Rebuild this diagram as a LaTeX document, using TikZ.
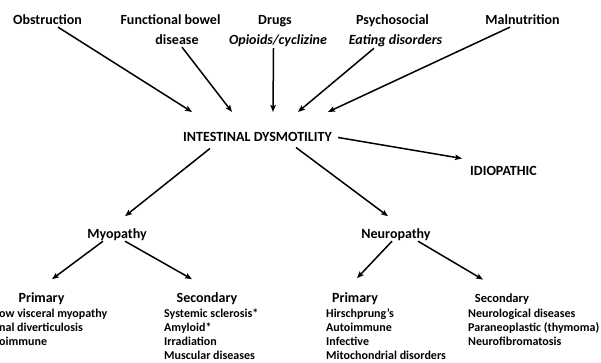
\documentclass[tikz,border=0pt]{standalone}
\usepackage{fontspec}
\setmainfont{Carlito}
\usetikzlibrary{arrows.meta,calc}
\tikzset{
  big/.style={inner sep=0pt,anchor=base,font=\fontsize{14}{16}\selectfont\bfseries},
  bigit/.style={inner sep=0pt,anchor=base,font=\fontsize{14}{16}\selectfont\bfseries\itshape},
  head/.style={inner sep=0pt,anchor=base,font=\fontsize{14}{16}\selectfont\bfseries},
  shead/.style={inner sep=0pt,anchor=base,font=\fontsize{12.5}{14}\selectfont\bfseries},
  item/.style={inner sep=0pt,anchor=base west,font=\fontsize{12}{14}\selectfont\bfseries},
  arr/.style={line width=1.5pt,-{Stealth[length=7pt,width=5.5pt,inset=1.5pt]}}
}
\begin{document}
\begin{tikzpicture}[x=1pt,y=-1pt]
\useasboundingbox (0,0) rectangle (601,362);
% top row
\node[big] (obs) at (47.5,24.5) {Obstruction};
\node[big] (fbd) at (170.5,24.5) {Functional bowel};
\node[big] (fbd2) at (177,44.5) {disease};
\node[big] (drg) at (275,24.5) {Drugs};
\node[bigit] (drg2) at (278,44.5) {Opioids/cyclizine};
\node[big] (psy) at (392.5,24.5) {Psychosocial};
\node[bigit] (psy2) at (395.5,44.5) {Eating disorders};
\node[big] (mal) at (522.5,24.5) {Malnutrition};
% centre
\node[big] (idm) at (257.5,141.5) {INTESTINAL DYSMOTILITY};
\node[big] (idio) at (503.5,175.5) {IDIOPATHIC};
\node[big] (myo) at (117,238.5) {Myopathy};
\node[big] (neu) at (396,238.5) {Neuropathy};
% headings
\node[head] (mp) at (41.5,302) {Primary};
\node[head] (ms) at (207,302) {Secondary};
\node[head] (np) at (355,302) {Primary};
\node[shead] (ns) at (502,302) {Secondary};
% items
\node[item] (mp1) at (-1,317) {ow visceral myopathy};
\node[item] (mp2) at (-1,331.3) {nal diverticulosis};
\node[item] (mp3) at (-1,345.6) {oimmune};
\node[item] (ms1) at (164,317) {Systemic sclerosis*};
\node[item] (ms2) at (164,331.3) {Amyloid*};
\node[item] (ms3) at (164,345.6) {Irradiation};
\node[item] (ms4) at (164,359.5) {Muscular diseases};
\node[item] (np1) at (326,317) {Hirschprung’s};
\node[item] (np2) at (326,331.3) {Autoimmune};
\node[item] (np3) at (326,345.6) {Infective};
\node[item] (np4) at (326,359.5) {Mitochondrial disorders};
\node[item] (ns1) at (468,317) {Neurological diseases};
\node[item] (ns2) at (468,331.3) {Paraneoplastic (thymoma)};
\node[item] (ns3) at (468,345.6) {Neurofibromatosis};
% connectors
\draw[arr] ($(obs)+(10.5,7.5)$) -- ($(idm)+(-65.5,-25)$);
\draw[arr] ($(fbd2)+(5,7.5)$) -- ($(idm)+(-25.5,-25)$);
\draw[arr] ($(drg2)+(-4.5,7.5)$) -- ($(idm)+(15.5,-25)$);
\draw[arr] ($(psy2)+(-21.5,7.5)$) -- ($(idm)+(40.5,-25)$);
\draw[arr] ($(mal)+(-12.5,7.5)$) -- ($(idm)+(70.5,-25)$);
\draw[arr] ($(idm)+(80.5,0.5)$) -- ($(idio)+(-41.5,-12.5)$);
\draw[arr] ($(idm)+(-47.5,11.5)$) -- ($(myo)+(8,-18.5)$);
\draw[arr] ($(idm)+(38.5,10.5)$) -- ($(neu)+(-8,-18.5)$);
\draw[arr] ($(myo)+(-14,6.5)$) -- ($(mp)+(10.5,-19)$);
\draw[arr] ($(myo)+(8,6.5)$) -- ($(ms)+(-15,-19)$);
\draw[arr] ($(neu)+(-4,6.5)$) -- ($(np)+(2,-20)$);
\draw[arr] ($(neu)+(22,6.5)$) -- ($(ns)+(-19,-19)$);
\end{tikzpicture}
\end{document}
